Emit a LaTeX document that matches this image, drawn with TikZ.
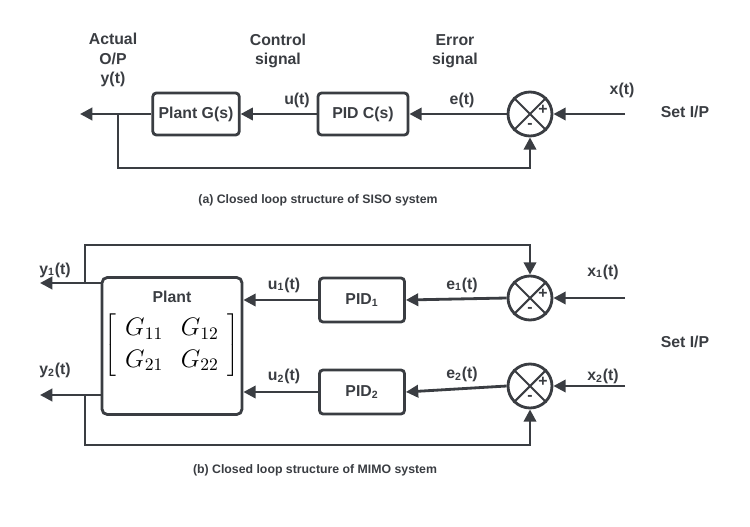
\documentclass[tikz,border=0pt]{standalone}
\usepackage{fontspec}
\setmainfont{Liberation Sans}
\usetikzlibrary{arrows.meta,calc}
\definecolor{ln}{HTML}{3A3D42}
\begin{document}
\begin{tikzpicture}[x=0.02cm,y=-0.02cm,line width=1.6pt,
  blk/.style={draw=ln,rounded corners=2pt,minimum height=0.84cm,font=\bfseries\small,text=ln},
  sumj/.style={draw=ln,circle,minimum size=0.88cm,inner sep=0pt},
  lbl/.style={font=\bfseries\small,text=ln,align=center},
  arr/.style={draw=ln,-{Triangle[length=7pt,width=7pt]}},
  ln/.style={draw=ln}]
\useasboundingbox (0,0) rectangle (750,527);
% ---- SISO
\node[blk,minimum width=1.66cm] (plant) at (196,114) {Plant G(s)};
\node[blk,minimum width=1.8cm] (pid) at (363,114) {PID C(s)};
\node[sumj] (s) at (530,114) {};
\draw[ln,line width=1.2pt] (s.north west)--(s.south east) (s.north east)--(s.south west);
\node[font=\bfseries\small,text=ln] at ($(s)+(13,-4)$) {+};
\node[font=\bfseries\small,text=ln] at ($(s)+(0,12)$) {-};
\coordinate (xin) at (625,114);
\coordinate (yout) at (80,114);
\coordinate (fb) at (118,114);
\draw[arr] (xin)--(s.east);
\draw[arr] (s.west)--(pid.east);
\draw[arr] (pid.west)--(plant.east);
\draw[arr] (plant.west)--(yout);
\draw[arr] (fb)--(118,168)--(530,168)--(s.south);
\node[lbl] at (113,60) {Actual\\O/P\\y(t)};
\node[lbl] at (278,51) {Control\\signal};
\node[lbl] at (455,51) {Error\\signal};
\node[lbl] at (297,100) {u(t)};
\node[lbl] at (462,100) {e(t)};
\node[lbl] at (622,90) {x(t)};
\node[lbl] at (685,112) {Set I/P};
\node[lbl,font=\bfseries\scriptsize] at (318,200) {(a) Closed loop structure of SISO system};
% ---- MIMO
\node[draw=ln,rounded corners=3pt,minimum width=2.8cm,minimum height=2.74cm] (P) at (172,346) {};
\node[lbl] at (172,297) {Plant};
\node[text=black] at (172,345) {\Large$\left[\begin{array}{cc}G_{11}&G_{12}\\G_{21}&G_{22}\end{array}\right]$};
\node[blk,minimum width=1.7cm,minimum height=0.88cm] (p1) at (362,300) {PID\textsubscript{1}};
\node[blk,minimum width=1.7cm,minimum height=0.88cm] (p2) at (362,392) {PID\textsubscript{2}};
\foreach \n/\yy in {s1/298,s2/386}{
  \node[sumj] (\n) at (530,\yy) {};
  \draw[ln,line width=1.2pt] (\n.north west)--(\n.south east) (\n.north east)--(\n.south west);
  \node[font=\bfseries\small,text=ln] at ($(\n)+(13,-4)$) {+};
  \node[font=\bfseries\small,text=ln] at ($(\n)+(0,12)$) {-};
}
\coordinate (x1) at (625,298);
\coordinate (x2) at (625,386);
\draw[arr] (x1)--(s1.east);
\draw[arr] (x2)--(s2.east);
\draw[arr] (s1.west)--(p1.east);
\draw[arr] (s2.west)--(p2.east);
\draw[arr] (p1.west)--(P.east |- p1);
\draw[arr] (p2.west)--(P.east |- p2);
\coordinate (y1) at (40,283);
\coordinate (y2) at (40,395);
\draw[arr] (P.west |- y1)--(y1);
\draw[arr] (P.west |- y2)--(y2);
\draw[arr] (85,283)--(85,245)--(530,245)--(s1.north);
\draw[arr] (85,395)--(85,445)--(530,445)--(s2.south);
\node[lbl] at (55,270) {y\textsubscript{1}(t)};
\node[lbl] at (55,370) {y\textsubscript{2}(t)};
\node[lbl] at (284,285) {u\textsubscript{1}(t)};
\node[lbl] at (284,376) {u\textsubscript{2}(t)};
\node[lbl] at (462,285) {e\textsubscript{1}(t)};
\node[lbl] at (462,374) {e\textsubscript{2}(t)};
\node[lbl] at (603,272) {x\textsubscript{1}(t)};
\node[lbl] at (603,376) {x\textsubscript{2}(t)};
\node[lbl] at (685,342) {Set I/P};
\node[lbl,font=\bfseries\scriptsize] at (315,470) {(b) Closed loop structure of MIMO system};
\end{tikzpicture}
\end{document}
